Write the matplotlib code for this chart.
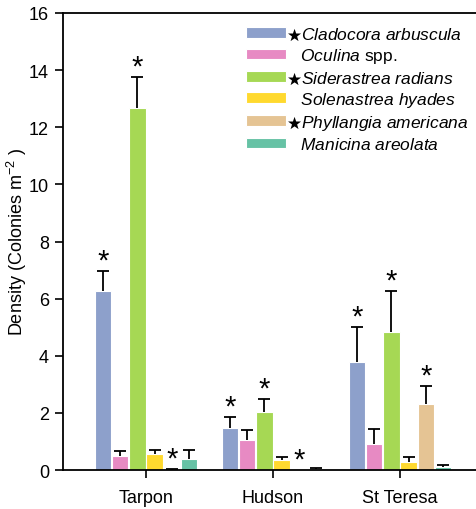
import matplotlib
matplotlib.use("Agg")
import matplotlib.pyplot as plt
import numpy as np

plt.rcParams['font.family'] = ['Liberation Sans', 'DejaVu Sans']
plt.rcParams['mathtext.fontset'] = 'custom'
plt.rcParams['mathtext.rm'] = 'Liberation Sans'
plt.rcParams['mathtext.it'] = 'Liberation Sans:italic'

sites = ["Tarpon", "Hudson", "St Teresa"]
species = ["Cladocora arbuscula", "Oculina spp.", "Siderastrea radians",
           "Solenastrea hyades", "Phyllangia americana", "Manicina areolata"]
starred = [True, False, True, False, True, False]
colors = ["#8da0cb", "#e78ac3", "#a6d854", "#ffd92f", "#e5c494", "#66c2a5"]

means = {
    "Cladocora arbuscula": [6.25, 1.47, 3.78],
    "Oculina spp.": [0.48, 1.06, 0.92],
    "Siderastrea radians": [12.67, 2.04, 4.82],
    "Solenastrea hyades": [0.57, 0.36, 0.27],
    "Phyllangia americana": [0.0, 0.0, 2.31],
    "Manicina areolata": [0.40, 0.05, 0.12],
}
errs = {
    "Cladocora arbuscula": [0.70, 0.38, 1.22],
    "Oculina spp.": [0.20, 0.34, 0.51],
    "Siderastrea radians": [1.10, 0.45, 1.45],
    "Solenastrea hyades": [0.13, 0.11, 0.17],
    "Phyllangia americana": [0.02, None, 0.62],
    "Manicina areolata": [0.30, 0.02, 0.05],
}

fig = plt.figure(figsize=(4.77, 5.10), dpi=100)
ax = fig.add_axes([63/477, 1-471/510, 1-63/477, (471-14)/510])

x = np.arange(len(sites))
step = 0.136
width = 0.13
capw = 0.095
handles = []
for i, sp in enumerate(species):
    xs = x + (i - 2.5) * step
    m = np.array(means[sp])
    b = ax.bar(xs, m, width, color=colors[i], edgecolor="white", linewidth=0.8, zorder=2)
    handles.append(b)
    for xi, mi, ei in zip(xs, m, errs[sp]):
        top = mi
        if ei is not None:
            top = mi + ei
            ax.vlines(xi, mi, top, color="black", linewidth=1.3, zorder=3)
            ax.hlines(top, xi - capw/2, xi + capw/2, color="black", linewidth=1.3, zorder=3)
        if starred[i]:
            ax.text(xi, top - 0.12, "*", ha="center", va="bottom",
                    fontsize=21, color="black", zorder=4)

labels = []
for sp, st in zip(species, starred):
    if sp == "Oculina spp.":
        body = r"$\mathit{Oculina}$ spp."
    else:
        body = r"$\mathit{" + sp.replace(" ", r"\ ") + "}$"
    labels.append((r"$\bigstar$" if st else "   ") + body)

leg = ax.legend(handles, labels, loc="upper left", bbox_to_anchor=(0.442, 0.972),
                frameon=False, fontsize=12.5, handlelength=2.3, handleheight=0.58,
                handletextpad=0.0, labelspacing=0.24, borderaxespad=0, borderpad=0)

ax.set_ylim(0, 16)
ax.set_xlim(-0.654, 2.606)
ax.set_yticks(np.arange(0, 17, 2))
ax.set_xticks(x)
ax.set_xticklabels(sites, fontsize=13)
ax.tick_params(axis="y", labelsize=13, direction="out", length=6, width=1.2, pad=4)
ax.tick_params(axis="x", direction="out", length=6, width=1.2, pad=8)
ax.spines["right"].set_visible(False)
for s in ["left", "top", "bottom"]:
    ax.spines[s].set_linewidth(1.3)
ax.set_ylabel(r"Density (Colonies m$^{-2}$ )", fontsize=13, labelpad=0)

fig.savefig("out.png", dpi=100)
